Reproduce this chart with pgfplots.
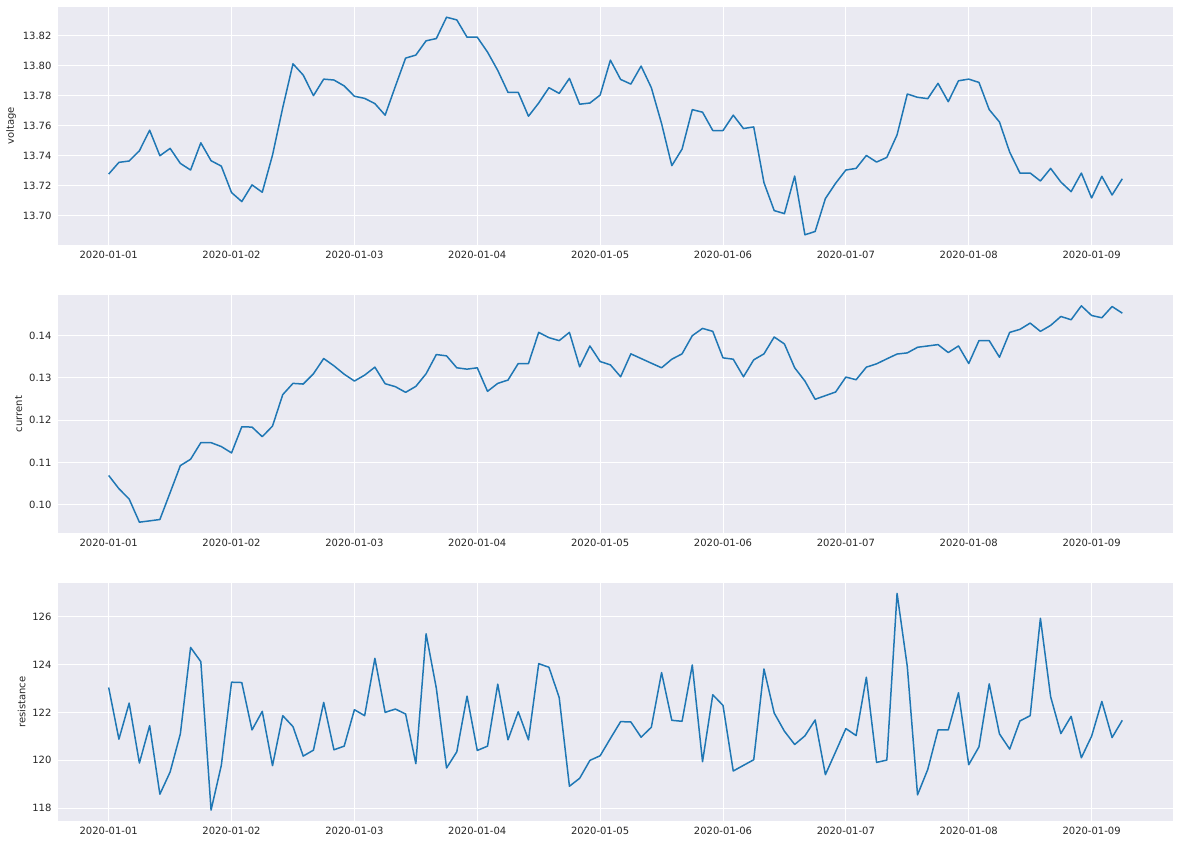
\documentclass[border=0pt]{standalone}
\usepackage{pgfplots}
\usepackage{pgfplotstable}
\pgfplotsset{compat=1.18}
\usepackage{fontspec}
\setmainfont{DejaVu Sans}
\definecolor{sbbg}{RGB}{234,234,242}
\definecolor{sbtext}{RGB}{38,38,38}
\definecolor{tabblue}{RGB}{31,119,180}

\pgfplotstableread{
v
13.7278
13.7356
13.7365
13.7433
13.7570
13.7400
13.7449
13.7349
13.7305
13.7486
13.7367
13.7331
13.7155
13.7095
13.7206
13.7157
13.7404
13.7720
13.8012
13.7937
13.7800
13.7910
13.7904
13.7865
13.7796
13.7782
13.7747
13.7670
13.7862
13.8050
13.8070
13.8165
13.8180
13.8322
13.8304
13.8189
13.8189
13.8090
13.7968
13.7822
13.7822
13.7663
13.7751
13.7853
13.7815
13.7915
13.7743
13.7751
13.7804
13.8036
13.7908
13.7877
13.7997
13.7853
13.7614
13.7334
13.7444
13.7707
13.7690
13.7568
13.7568
13.7670
13.7581
13.7592
13.7221
13.7035
13.7015
13.7265
13.6874
13.6896
13.7115
13.7217
13.7305
13.7316
13.7402
13.7358
13.7389
13.7539
13.7811
13.7789
13.7780
13.7882
13.7760
13.7899
13.7910
13.7888
13.7707
13.7625
13.7424
13.7285
13.7285
13.7232
13.7316
13.7225
13.7161
13.7285
13.7119
13.7263
13.7139
13.7247
}\voltagetab

\pgfplotstableread{
v
0.10697
0.10384
0.10140
0.09593
0.09624
0.09656
0.10290
0.10930
0.11080
0.11472
0.11472
0.11380
0.11230
0.11847
0.11840
0.11613
0.11863
0.12607
0.12873
0.12857
0.13100
0.13460
0.13288
0.13090
0.12928
0.13068
0.13256
0.12865
0.12795
0.12661
0.12802
0.13100
0.13554
0.13523
0.13241
0.13209
0.13241
0.12685
0.12873
0.12951
0.13342
0.13342
0.14078
0.13953
0.13883
0.14078
0.13264
0.13757
0.13389
0.13311
0.13029
0.13570
0.13460
0.13350
0.13241
0.13444
0.13570
0.14000
0.14172
0.14102
0.13476
0.13444
0.13029
0.13429
0.13570
0.13969
0.13804
0.13241
0.12928
0.12497
0.12583
0.12669
0.13022
0.12959
0.13256
0.13335
0.13452
0.13566
0.13593
0.13726
0.13757
0.13789
0.13601
0.13757
0.13342
0.13883
0.13883
0.13491
0.14078
0.14149
0.14297
0.14102
0.14243
0.14454
0.14376
0.14705
0.14477
0.14423
0.14689
0.14532
}\currenttab

\pgfplotstableread{
v
123.047
120.884
122.395
119.886
121.452
118.582
119.511
121.106
124.724
124.128
117.917
119.789
123.269
123.255
121.272
122.049
119.775
121.868
121.411
120.177
120.426
122.423
120.440
120.593
122.118
121.868
124.267
122.007
122.146
121.938
119.858
125.293
123.019
119.678
120.357
122.686
120.412
120.593
123.185
120.856
122.035
120.856
124.045
123.893
122.631
118.915
119.248
119.997
120.191
120.912
121.619
121.605
120.967
121.383
123.671
121.674
121.633
123.990
119.941
122.742
122.298
119.553
119.789
120.024
123.823
121.979
121.217
120.662
121.023
121.688
119.400
120.357
121.328
121.036
123.477
119.913
120.010
126.984
123.920
118.555
119.622
121.272
121.272
122.825
119.816
120.565
123.199
121.106
120.468
121.646
121.868
125.945
122.659
121.120
121.841
120.107
121.009
122.464
120.953
121.674
}\resistancetab

\pgfplotsset{
  sbstyle/.style={
    scale only axis,
    width=1115pt, height=238pt,
    anchor=north west,
    xmin=-4.95, xmax=103.95,
    axis background/.style={fill=sbbg},
    axis line style={draw=none},
    grid=major,
    major grid style={white, line width=1pt},
    major tick length=0pt,
    xtick={0,12,24,36,48,60,72,84,96},
    xticklabels={2020-01-01,2020-01-02,2020-01-03,2020-01-04,2020-01-05,2020-01-06,2020-01-07,2020-01-08,2020-01-09},
    tick label style={font=\fontsize{10}{12}\selectfont, text=sbtext},
    xticklabel style={yshift=-3pt},
    yticklabel style={xshift=-3pt},
    label style={font=\fontsize{10}{12}\selectfont, text=sbtext},
    /pgf/number format/assume math mode=true,
    scaled y ticks=false,
  },
  sbline/.style={tabblue, line width=1.5pt, no marks, line join=round},
}

\begin{document}
\begin{tikzpicture}
\path[use as bounding box] (-58pt,7pt) rectangle (1122pt,-839pt);
\begin{axis}[sbstyle, at={(0pt,0pt)},
  ymin=13.6806, ymax=13.8390,
  ytick={13.70,13.72,13.74,13.76,13.78,13.80,13.82},
  yticklabel style={/pgf/number format/.cd, fixed, fixed zerofill, precision=2},
  ylabel={voltage}]
\addplot[sbline] table[x expr=\coordindex, y=v] {\voltagetab};
\end{axis}
\begin{axis}[sbstyle, at={(0pt,-288pt)},
  ymin=0.09337, ymax=0.14961,
  ytick={0.10,0.11,0.12,0.13,0.14},
  yticklabel style={/pgf/number format/.cd, fixed, fixed zerofill, precision=2},
  ylabel={current}]
\addplot[sbline] table[x expr=\coordindex, y=v] {\currenttab};
\end{axis}
\begin{axis}[sbstyle, at={(0pt,-576pt)},
  ymin=117.46, ymax=127.42,
  ytick={118,120,122,124,126},
  ylabel={resistance}]
\addplot[sbline] table[x expr=\coordindex, y=v] {\resistancetab};
\end{axis}
\end{tikzpicture}
\end{document}
